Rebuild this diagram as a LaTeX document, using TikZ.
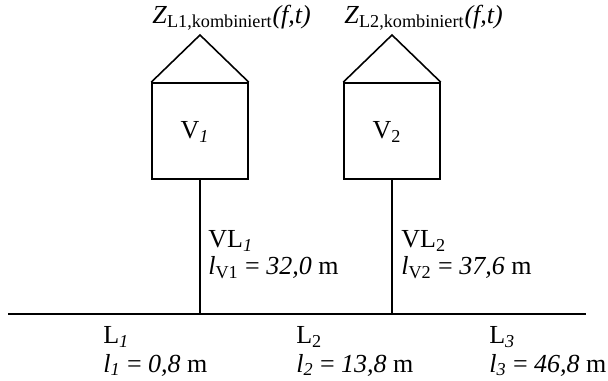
\documentclass[tikz,border=0pt]{standalone}
\usepackage{fontspec}
\setmainfont{Liberation Serif}
\tikzset{
    haus/.style={draw, line width=0.9pt, minimum size=1.92cm, inner sep=0pt},
    leitung/.style={line width=0.85pt},
    beschr/.style={anchor=north west, inner sep=0pt, align=left, font=\fontsize{14.8}{15.3}\selectfont},
    beschrunten/.style={beschr, font=\fontsize{14.8}{16.4}\selectfont},
    zlabel/.style={anchor=base west, inner sep=0pt, font=\fontsize{14.8}{15}\selectfont},
}
\begin{document}
\begin{tikzpicture}[x=0.02cm, y=-0.02cm]
\useasboundingbox (0,0) rectangle (608,381);

% --- Verbraucher ---
\foreach \i/\x/\sub in {1/200/\textit{1}, 2/392/2} {
    \node[haus] (v\i) at (\x,131) {};
    \node[zlabel, anchor=center] (t\i) at ([xshift=-0.1cm, yshift=-0.02cm]v\i.center) {V\textsubscript{\sub}};
    \coordinate (d\i) at (\x,35);
    \draw[line width=0.9pt] (v\i.north west) -- (d\i) -- (v\i.north east);
    \coordinate (a\i) at (\x,314);
    \draw[leitung] (v\i.south) -- (a\i);
}

% --- Hauptleitung ---
\coordinate (bus0) at (8,314);
\coordinate (bus1) at (586,314);
\draw[leitung] (bus0) -- (bus1);

% --- Beschriftung ---
\node[zlabel] (z1) at (152,24) {\textit{Z}\textsubscript{L1,kombiniert}\textit{(f,t)}};
\node[zlabel] (z2) at (344,24) {\textit{Z}\textsubscript{L2,kombiniert}\textit{(f,t)}};

\node[beschr] (vl1) at (208,230) {VL\textsubscript{\textit{1}}\\\textit{l}\textsubscript{V1} = \textit{32,0} m};
\node[beschr] (vl2) at (401,230) {VL\textsubscript{2}\\\textit{l}\textsubscript{V2} = \textit{37,6} m};

\node[beschrunten] (l1) at (103,326) {L\textsubscript{\textit{1}}\\\textit{l\textsubscript{1}} = \textit{0,8} m};
\node[beschrunten] (l2) at (296,326) {L\textsubscript{2}\\\textit{l\textsubscript{2}} = \textit{13,8} m};
\node[beschrunten] (l3) at (489,326) {L\textsubscript{\textit{3}}\\\textit{l\textsubscript{3}} = \textit{46,8} m};

\end{tikzpicture}
\end{document}
